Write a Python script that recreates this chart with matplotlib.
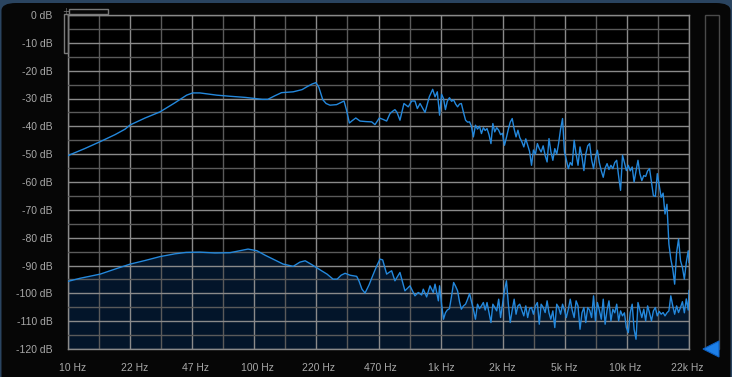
import numpy as np
import matplotlib
matplotlib.use("Agg")
import matplotlib.pyplot as plt
from matplotlib.patches import Rectangle, Polygon, FancyBboxPatch
from matplotlib.transforms import ScaledTranslation
from matplotlib.ticker import NullFormatter

# upper trace, 10 Hz .. 1 kHz
upper_hz = [10, 12.3, 14.9, 17.9, 20.3, 21.6, 26, 31.3, 37.7, 43.5,
            46.9, 51.3, 63.2, 74.5, 89.7, 101.5, 111, 119, 130, 141,
            163, 182, 193, 206, 216, 224, 235, 245, 257, 279,
            306, 315, 327, 338, 354, 373, 402, 431, 449, 474,
            496, 519, 541, 561, 575, 590, 612, 643, 678, 708,
            737, 759, 785, 835, 880, 918, 945, 972]
upper_db = [-50.5, -48, -45.5, -43, -41, -39.5, -37, -34.8, -31.5, -28.8,
            -28, -28, -28.8, -29.2, -29.6, -30, -30.3, -30.3, -29, -27.9,
            -27.6, -26.8, -25.8, -24.8, -24.3, -26, -30.4, -31.8, -32.4, -32.2,
            -30.9, -34, -38.8, -38, -37, -38.1, -38.3, -38.4, -39.4, -37,
            -37.5, -38.1, -35.4, -34.5, -34, -35, -37.8, -31.8, -33, -30.9,
            -30.9, -33.6, -31.8, -35, -29.4, -26.7, -29.4, -27.6]

# lower trace, 10 Hz .. 1 kHz
lower_hz = [10, 11.6, 14.9, 17.9, 21.6, 26, 31.3, 37.7, 43.2, 51.3,
            61.8, 74.5, 84.3, 93.1, 104, 115, 127, 144, 163, 177,
            189, 203, 219, 233, 248, 267, 281, 295, 310, 330,
            358, 368, 382, 397, 417, 440, 460, 478, 494, 519,
            534, 552, 575, 612, 651, 693, 737, 768, 801, 817,
            852, 888, 925, 945, 985]
lower_db = [-95.7, -94.6, -93.1, -91.3, -89.5, -88.2, -86.8, -85.8, -85.3, -85.2,
            -85.5, -85.4, -84.7, -84.1, -84.7, -86.3, -87.7, -89.5, -90.3, -88.8,
            -88.3, -89.5, -90.9, -92, -93.1, -94.9, -94.9, -93.5, -92.8, -93.5,
            -93.9, -95.5, -98.5, -99.9, -97, -93.1, -90, -87.7, -88, -93.1,
            -92.5, -91.9, -95.5, -92.5, -99.1, -97.3, -100.9, -99.7, -100.6, -98.5,
            -101.3, -97.3, -99.7, -96.7, -102.7]

# shared bins 1 kHz .. 22 kHz
hf_hz = [1000, 1025, 1050, 1075, 1100, 1130, 1160, 1190, 1220, 1250,
         1280, 1310, 1345, 1380, 1415, 1450, 1485, 1520, 1560, 1600,
         1640, 1680, 1720, 1760, 1800, 1845, 1890, 1935, 1980, 2030,
         2080, 2130, 2180, 2235, 2290, 2345, 2400, 2460, 2520, 2580,
         2640, 2700, 2770, 2840, 2910, 2980, 3050, 3125, 3200, 3280,
         3360, 3440, 3520, 3610, 3700, 3790, 3880, 3970, 4070, 4170,
         4270, 4370, 4480, 4590, 4700, 4810, 4930, 5050, 5170, 5300,
         5430, 5560, 5700, 5840, 5980, 6120, 6270, 6420, 6580, 6740,
         6900, 7070, 7240, 7420, 7600, 7780, 7970, 8160, 8360, 8560,
         8770, 8980, 9200, 9420, 9650, 9880, 10120, 10370, 10620, 10880,
         11140, 11410, 11690, 11970, 12260, 12560, 12860, 13170, 13490, 13820,
         14150, 14500, 14850, 15210, 15580, 15960, 16340, 16740, 17150, 17560,
         17990, 18420, 18870, 19330, 19800, 20280, 20770, 21270, 21790, 22000]
upper_hf_db = [-36, -28.5, -30, -34, -31, -29.7, -31, -30.5, -32, -33,
               -32, -31.8, -35, -37.8, -38.5, -38.4, -40, -43.8, -39.6, -41,
               -40, -42.6, -40.5, -41.5, -40.8, -43, -46.2, -39, -42, -40.5,
               -41.4, -43, -42.5, -46.8, -44, -41, -38.5, -37.2, -41, -43.8,
               -41.4, -44, -45.5, -47.4, -44.5, -46.8, -49, -54, -48.5, -50,
               -46.2, -48, -49.2, -47, -50.5, -52.8, -44.4, -49, -52.2, -48,
               -50, -46.2, -41, -37.2, -49.2, -52, -55.2, -53, -54, -45,
               -50, -54, -47.4, -51, -55.9, -50, -47, -46.2, -52, -55.2,
               -51, -48.6, -53, -56, -58.3, -55, -53.4, -55.5, -54, -55.2,
               -53, -52.2, -58, -63, -50.4, -53, -55.9, -54, -56, -54.6,
               -60, -56, -52.2, -57, -59.5, -57.7, -58, -56, -55.2, -60,
               -64.9, -65.2, -57, -61.3, -65.5, -64, -71.5, -68, -82.3, -87.7,
               -91.3, -96.7, -85.3, -80.5, -88.3, -90.7, -94.9, -88.9, -84.7, -88.9]
lower_hf_db = [-97.3, -104, -109.3, -107, -106, -105.5, -101, -96.1, -97.5, -99.1,
               -103, -105.7, -104.5, -103.9, -102.1, -100.1, -103, -105.7, -109.3, -103.9,
               -105.5, -104.5, -103.3, -106, -103.3, -107, -110.5, -103.9, -105, -106.3,
               -102.1, -108.7, -104, -99, -95.5, -103.9, -110.5, -106, -102.1, -107.5,
               -104.5, -103.9, -106, -108.1, -104.5, -108.7, -105.5, -105.1, -107.5, -104.5,
               -103.3, -111.1, -103.9, -105, -106.9, -102.7, -107, -109.3, -106.3, -112.3,
               -103.9, -105, -107.5, -103.9, -106, -108.7, -105.7, -102.1, -106, -108.7,
               -102.7, -104.5, -112.9, -107, -105.1, -110.5, -105.1, -106, -108.7, -100.9,
               -109.9, -103.3, -106, -109.3, -102.1, -111.1, -106, -102.7, -109.9, -105.7,
               -107, -103.9, -109.9, -106.3, -108.1, -107, -112.3, -114.1, -106.9, -103.9,
               -112.9, -116.5, -103.3, -106, -108.7, -105.7, -109.9, -104.5, -107, -109.9,
               -106.3, -105.1, -108.1, -106.5, -107.5, -106.9, -108.1, -107, -106.3, -100.9,
               -104.5, -107.5, -104.5, -106.9, -105.1, -103, -107, -102, -106, -99]

x_labels = ["10 Hz", "22 Hz", "47 Hz", "100 Hz", "220 Hz", "470 Hz",
            "1k Hz", "2k Hz", "5k Hz", "10k Hz", "22k Hz"]
y_levels = list(range(0, -121, -10))

up_f = np.array(upper_hz + hf_hz)
up_d = np.array(upper_db + upper_hf_db)
lo_f = np.array(lower_hz + hf_hz)
lo_d = np.array(lower_db + lower_hf_db)

W, H = 732, 377
fig = plt.figure(figsize=(W / 100, H / 100), dpi=100)
fig.patch.set_facecolor("#2a4460")

def fx(x):
    return x / W

def fy(y):
    return 1 - y / H

# rounded dark panel behind everything
panel = FancyBboxPatch((fx(1.5), fy(400)), fx(729), (400 - 3) / H,
                       boxstyle="round,pad=0,rounding_size=0.02",
                       transform=fig.transFigure, facecolor="#060606",
                       edgecolor="none", zorder=-5)
fig.patches.append(panel)

ax = fig.add_axes([fx(68), fy(349), fx(689 - 68), (349 - 15) / H])
ax.set_facecolor("#000000")

line_col = "#2488dc"
ax.fill_between(lo_f, lo_d, -120, color="#03152a", lw=0, zorder=1)
ax.plot(lo_f, lo_d, color=line_col, lw=1.0, zorder=3)
ax.plot(up_f, up_d, color=line_col, lw=1.0, zorder=3)

ax.set_xscale("log")
ax.set_xlim(10, 22000)
ax.set_ylim(-120, 0)

ax.set_xticks(np.geomspace(10, 22000, 11))
ax.set_xticks(np.geomspace(10, 22000, 21), minor=True)
ax.xaxis.set_minor_formatter(NullFormatter())
ax.set_xticklabels(x_labels)
ax.set_yticks(y_levels)
ax.set_yticks(range(-5, -120, -10), minor=True)
ax.set_yticklabels([f"{v} dB" for v in y_levels])

ax.grid(which="major", color="#8a8a8a", lw=1.0, zorder=2)
ax.grid(which="minor", color="#5a5a5a", lw=1.0, zorder=2)
ax.set_axisbelow(False)
for sp in ax.spines.values():
    sp.set_color("#8a8a8a")
    sp.set_linewidth(1.0)

ax.tick_params(which="both", length=0, colors="#a8a8a8", labelsize=7.5)
ax.tick_params(axis="x", pad=10)
ax.tick_params(axis="y", pad=11)
for lbl in ax.get_xticklabels() + ax.get_yticklabels():
    lbl.set_family(["Liberation Sans", "DejaVu Sans"])

# labels drift slightly relative to the grid lines
for i, lbl in enumerate(ax.get_xticklabels()):
    dx = (5 - 0.7 * i) / 100
    lbl.set_transform(lbl.get_transform() + ScaledTranslation(dx, 0, fig.dpi_scale_trans))

# small widgets top-left
ov = "#7a7a7a"
fig.patches.append(Rectangle((fx(68.5), fy(14)), fx(39), 4.5 / H, fill=False,
                             edgecolor=ov, lw=1, transform=fig.transFigure))
fig.patches.append(Rectangle((fx(63.5), fy(53)), fx(4.5), 39 / H, fill=False,
                             edgecolor=ov, lw=1, transform=fig.transFigure))
fig.text(fx(65.5), fy(11.5), "+", color=ov, fontsize=6, ha="center", va="center")

# level meter on the right
fig.patches.append(Rectangle((fx(704.5), fy(349)), fx(14), (349 - 14.5) / H,
                             fill=False, edgecolor="#4a4a4a", lw=1,
                             transform=fig.transFigure))
fig.patches.append(Polygon([(fx(703), fy(349)), (fx(719), fy(341)), (fx(719), fy(357))],
                           closed=True, facecolor="#1d7fe8", edgecolor="#0d5fc0",
                           lw=0.8, transform=fig.transFigure))

fig.savefig("out.png", dpi=100, facecolor=fig.get_facecolor())
